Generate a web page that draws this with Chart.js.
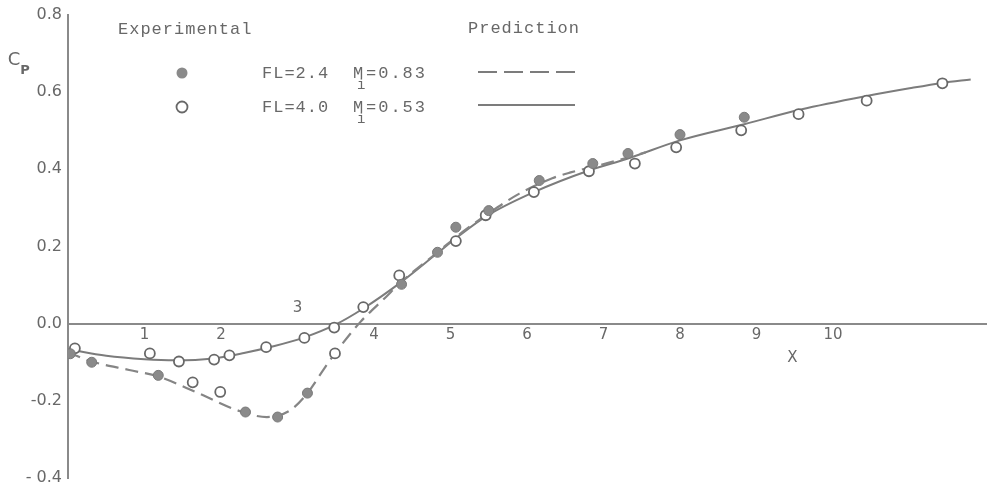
<!DOCTYPE html>
<html>
<head>
<meta charset="utf-8">
<title>Cp - X</title>
<script src="https://cdn.jsdelivr.net/npm/chart.js@4/dist/chart.umd.min.js"></script>
<style>
  html, body { margin: 0; padding: 0; background: #fff; overflow: hidden; }
  canvas { display: block; }
</style>
</head>
<body>
<canvas id="chartCp" width="987" height="490"></canvas>
<script>
// Etiquetas de los ejes
const xTicks = [1, 2, 3, 4, 5, 6, 7, 8, 9, 10];
const yTickLabels = ['- 0.4', '-0.2', '0.0', '0.2', '0.4', '0.6', '0.8'];

// Experimental, FL=2.4 Mi=0.83 (círculos llenos)
const expFL24 = [
    [0.03, -0.078], [0.31, -0.100], [1.18, -0.134], [2.32, -0.229], [2.74, -0.242],
    [3.13, -0.180], [4.36, 0.102], [4.83, 0.185], [5.07, 0.250], [5.50, 0.293],
    [6.16, 0.371], [6.86, 0.415], [7.32, 0.441], [8.00, 0.490], [8.84, 0.535]
];

// Experimental, FL=4.0 Mi=0.53 (círculos abiertos)
const expFL40 = [
    [0.09, -0.064], [1.07, -0.077], [1.45, -0.098], [1.63, -0.152], [1.91, -0.093],
    [1.99, -0.177], [2.11, -0.082], [2.59, -0.061], [3.09, -0.037], [3.48, -0.010],
    [3.49, -0.077], [3.86, 0.043], [4.33, 0.125], [5.07, 0.214], [5.46, 0.281],
    [6.09, 0.341], [6.81, 0.395], [7.41, 0.415], [7.95, 0.457], [8.80, 0.501],
    [9.55, 0.543], [10.44, 0.578], [11.43, 0.623]
];

// Predicción FL=2.4 (línea discontinua)
const predFL24 = [
    [0, -0.074], [0.31, -0.098], [0.8, -0.120], [1.18, -0.137], [1.7, -0.180],
    [2.25, -0.227], [2.6, -0.242], [2.9, -0.225], [3.13, -0.180], [3.36, -0.113],
    [3.49, -0.077], [3.82, 0.004], [4.15, 0.068], [4.35, 0.107], [4.83, 0.185],
    [5.1, 0.229], [5.5, 0.286], [5.9, 0.337], [6.33, 0.377], [6.57, 0.392],
    [7.05, 0.416], [7.55, 0.444]
];

// Predicción FL=4.0 (línea continua)
const predFL40 = [
    [0, -0.066], [0.5, -0.083], [1.0, -0.092], [1.4, -0.095], [1.9, -0.090],
    [2.3, -0.076], [2.7, -0.058], [3.1, -0.035], [3.5, -0.002], [3.85, 0.038],
    [4.35, 0.107], [4.83, 0.183], [5.1, 0.226], [5.48, 0.280], [6.09, 0.341],
    [6.81, 0.397], [7.32, 0.428], [8.0, 0.475], [8.84, 0.517], [9.58, 0.555],
    [10.44, 0.590], [11.0, 0.610], [11.43, 0.624], [11.8, 0.633]
];

const INK = '#686868';
const LINE = '#7c7c7c';
const toPoints = arr => arr.map(([x, y]) => ({ x, y }));

// Textos que no son de Chart.js: leyenda, Cp, X y los números del eje x
const anotaciones = {
    id: 'anotaciones',
    afterDraw(chart) {
        const { ctx, scales: { x, y } } = chart;
        const y0 = y.getPixelForValue(0);
        ctx.save();
        ctx.fillStyle = INK;

        // números del eje x, el 3 queda encima de la línea
        ctx.font = '15px "DejaVu Sans"';
        ctx.textAlign = 'center';
        ctx.textBaseline = 'middle';
        xTicks.forEach(v => {
            const py = v === 3 ? y0 - 16 : y0 + 11;
            ctx.fillText(String(v), x.getPixelForValue(v), py);
        });
        ctx.fillText('X', x.getPixelForValue(9.47), y0 + 34);

        // Cp
        ctx.font = '18px "DejaVu Sans"';
        ctx.fillText('C', 14, 60);
        ctx.font = 'bold 13px "DejaVu Sans"';
        ctx.fillText('P', 25, 71);

        // leyenda
        ctx.textAlign = 'left';
        ctx.font = '17px "Liberation Mono"';
        ctx.letterSpacing = '1px';
        ctx.fillText('Experimental', 118, 29);
        ctx.fillText('Prediction', 468, 28);

        const filas = [
            { yy: 73, fl: 'FL=2.4', mi: '=0.83', lleno: true },
            { yy: 107, fl: 'FL=4.0', mi: '=0.53', lleno: false }
        ];
        filas.forEach(f => {
            ctx.font = '17px "Liberation Mono"';
            ctx.letterSpacing = '1px';
            ctx.fillText(f.fl, 262, f.yy);
            ctx.fillText('M', 353, f.yy);
            ctx.letterSpacing = '2px';
            ctx.fillText(f.mi, 366, f.yy);
            ctx.letterSpacing = '0px';
            ctx.font = '14px "Liberation Mono"';
            ctx.fillText('i', 357, f.yy + 12);

            ctx.beginPath();
            ctx.arc(182, f.yy, 5.5, 0, Math.PI * 2);
            if (f.lleno) {
                ctx.fillStyle = '#8a8a8a';
                ctx.fill();
            } else {
                ctx.fillStyle = '#fff';
                ctx.fill();
                ctx.lineWidth = 1.8;
                ctx.strokeStyle = INK;
                ctx.stroke();
            }
            ctx.fillStyle = INK;

            ctx.beginPath();
            ctx.lineWidth = 2;
            ctx.strokeStyle = LINE;
            ctx.setLineDash(f.lleno ? [19, 7] : []);
            ctx.moveTo(478, f.lleno ? 72 : 105);
            ctx.lineTo(575, f.lleno ? 72 : 105);
            ctx.stroke();
            ctx.setLineDash([]);
        });
        ctx.restore();
    }
};

new Chart(document.getElementById('chartCp'), {
    type: 'scatter',
    data: {
        datasets: [
            {
                label: 'FL=2.4 exp',
                data: toPoints(expFL24),
                pointRadius: 5,
                pointBackgroundColor: '#8a8a8a',
                pointBorderColor: '#7a7a7a',
                pointBorderWidth: 1
            },
            {
                label: 'FL=4.0 exp',
                data: toPoints(expFL40),
                pointRadius: 5,
                pointBackgroundColor: '#fff',
                pointBorderColor: INK,
                pointBorderWidth: 1.8
            },
            {
                label: 'FL=2.4 pred',
                data: toPoints(predFL24),
                showLine: true,
                pointRadius: 0,
                borderColor: '#858585',
                borderWidth: 2.2,
                borderDash: [13, 7],
                cubicInterpolationMode: 'monotone'
            },
            {
                label: 'FL=4.0 pred',
                data: toPoints(predFL40),
                showLine: true,
                pointRadius: 0,
                borderColor: LINE,
                borderWidth: 2,
                cubicInterpolationMode: 'monotone'
            }
        ]
    },
    options: {
        responsive: false,
        animation: false,
        events: [],
        // autoPadding reserva sitio para los puntos; aquí el área va fija
        layout: { autoPadding: false, padding: { left: 0, right: 1, top: 15, bottom: 12 } },
        plugins: { legend: { display: false }, tooltip: { enabled: false } },
        scales: {
            x: {
                type: 'linear',
                min: 0,
                max: 12,
                position: { y: 0 },
                afterFit: scale => { scale.paddingLeft = 0; scale.paddingRight = 0; },
                grid: { display: false, drawTicks: false },
                border: { display: true, color: '#8a8a8a', width: 2 },
                ticks: { display: false }
            },
            y: {
                type: 'linear',
                min: -0.4,
                max: 0.8,
                position: 'left',
                afterFit: scale => {
                    scale.width = 68;
                    scale.paddingTop = 0;
                    scale.paddingBottom = 0;
                },
                grid: { display: false, drawTicks: false },
                border: { display: true, color: '#8a8a8a', width: 2 },
                ticks: {
                    stepSize: 0.2,
                    padding: 6,
                    color: INK,
                    font: { family: 'DejaVu Sans', size: 16 },
                    callback: (v, i) => yTickLabels[i]
                }
            }
        }
    },
    plugins: [anotaciones]
});
</script>
</body>
</html>
